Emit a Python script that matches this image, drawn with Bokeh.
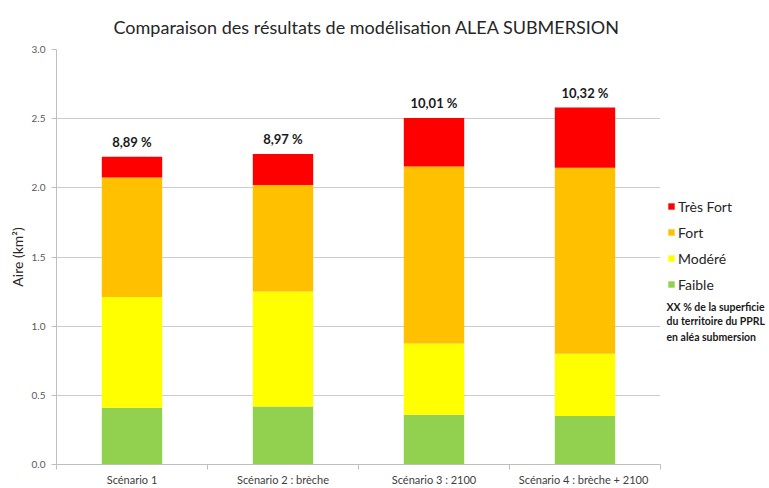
from bokeh.plotting import figure
from bokeh.layouts import row
from bokeh.models import (ColumnDataSource, Range1d, FixedTicker, Legend, LegendItem,
                          Label, LabelSet, NumeralTickFormatter)
from bokeh.core.properties import value
from bokeh.embed import file_html
from bokeh.resources import INLINE

# ---- data ----
scenarios = ["Scénario 1", "Scénario 2 : brèche", "Scénario 3 : 2100", "Scénario 4 :  brèche + 2100"]
faible = [0.41, 0.42, 0.36, 0.35]
modere = [0.80, 0.83, 0.515, 0.45]
fort = [0.865, 0.77, 1.28, 1.345]
tres_fort = [0.15, 0.225, 0.35, 0.435]
pourcentages = ["8,89 %", "8,97 %", "10,01 %", "10,32 %"]
levels = ["faible", "modere", "fort", "tres_fort"]
level_names = ["Faible", "Modéré", "Fort", "Très Fort"]
colors = ["#92D050", "#FFFF00", "#FFC000", "#FF0000"]
y_ticks = [0.0, 0.5, 1.0, 1.5, 2.0, 2.5, 3.0]
note_lines = ["XX % de la superficie", "du territoire du PPRL", "en aléa submersion"]
title_text = "Comparaison des résultats de modélisation ALEA SUBMERSION"
y_label = "Aire (km²)"

FONT = "Lato"

x = [i + 0.5 for i in range(len(scenarios))]
totals = [a + b + c + d for a, b, c, d in zip(faible, modere, fort, tres_fort)]
src = ColumnDataSource(dict(x=x, faible=faible, modere=modere, fort=fort,
                            tres_fort=tres_fort, total=totals, pct=pourcentages))

H = 488
MAIN_W = 662
p = figure(width=MAIN_W, height=H, output_backend="svg", toolbar_location=None,
           x_range=Range1d(0, len(scenarios)), y_range=Range1d(0, 3),
           min_border_left=56, min_border_right=2, min_border_top=49, min_border_bottom=0,
           outline_line_color=None, background_fill_color="white")

p.title.text = title_text
p.title.text_font = FONT
p.title.text_font_size = "18px"
p.title.text_font_style = "normal"
p.title.text_color = "#262626"
p.title.align = "left"
p.title.offset = 57
p.title.standoff = 24

p.vbar_stack(levels, x="x", width=0.4, source=src, color=colors, line_color=None)

# axes
p.xaxis.ticker = FixedTicker(ticks=x, minor_ticks=list(range(len(scenarios) + 1)))
p.xaxis.major_label_overrides = {xi: s for xi, s in zip(x, scenarios)}
p.xaxis.major_tick_line_color = None
p.xaxis.minor_tick_out = 5
p.xaxis.minor_tick_in = 0
p.xaxis.minor_tick_line_color = "#bfbfbf"
p.xaxis.axis_line_color = "#bfbfbf"
p.xaxis.major_label_text_font = FONT
p.xaxis.major_label_text_font_size = "11px"
p.xaxis.major_label_text_color = "#404040"
p.xaxis.major_label_standoff = 2
p.xaxis.axis_label_standoff = 0

p.yaxis.ticker = FixedTicker(ticks=y_ticks, minor_ticks=[])
p.yaxis.formatter = NumeralTickFormatter(format="0.0")
p.yaxis.axis_line_color = "#bfbfbf"
p.yaxis.major_tick_line_color = "#bfbfbf"
p.yaxis.major_tick_out = 5
p.yaxis.major_tick_in = 0
p.yaxis.major_label_text_font = FONT
p.yaxis.major_label_text_font_size = "10px"
p.yaxis.major_label_text_color = "#595959"
p.yaxis.major_label_standoff = 6
p.yaxis.axis_label = y_label
p.yaxis.axis_label_text_font = FONT
p.yaxis.axis_label_text_font_size = "14px"
p.yaxis.axis_label_text_font_style = "normal"
p.yaxis.axis_label_text_color = "#262626"
p.yaxis.axis_label_standoff = 3

p.xgrid.grid_line_color = None
p.ygrid.grid_line_color = "#cccccc"
p.ygrid.ticker = FixedTicker(ticks=y_ticks)

# percentage labels
labels = LabelSet(x="x", y="total", text="pct", source=src, text_align="center",
                  text_baseline="middle", y_offset=15, text_font=value(FONT),
                  text_font_size=value("13px"), text_font_style=value("bold"),
                  text_color=value("#1a1a1a"))
p.add_layout(labels)

# ---- side panel: legend and note (frame aligned with the main plot) ----
SW = 769 - MAIN_W
side = figure(width=SW, height=H, output_backend="svg", toolbar_location=None,
              x_range=Range1d(0, SW), y_range=Range1d(0, 3),
              min_border_left=0, min_border_right=0, min_border_top=49, min_border_bottom=0,
              outline_line_color=None, background_fill_color="white")
side.axis.visible = False
side.grid.grid_line_color = None

side_r = {}
for lvl, c in zip(levels, colors):
    side_r[lvl] = side.vbar(x=[float("nan")], top=[float("nan")], width=1, color=c, line_color=None)

items = [LegendItem(label=level_names[i], renderers=[side_r[levels[i]]])
         for i in reversed(range(len(levels)))]
legend = Legend(items=items, location=(5, 170), padding=0, margin=0, spacing=6,
                glyph_width=8, glyph_height=8, label_height=20, label_standoff=3,
                label_text_font=FONT, label_text_font_size="14px", label_text_color="#262626",
                border_line_color=None, background_fill_alpha=0)
side.add_layout(legend)

note_y = [1.14, 1.034, 0.925]
for yv, line in zip(note_y, note_lines):
    side.add_layout(Label(x=4, y=yv, text=line, text_font=FONT,
                          text_font_size="10.5px", text_font_style="bold", text_color="#1a1a1a",
                          text_baseline="middle", text_align="left"))

layout = row(p, side)
open("out.html", "w").write(file_html(layout, INLINE))
